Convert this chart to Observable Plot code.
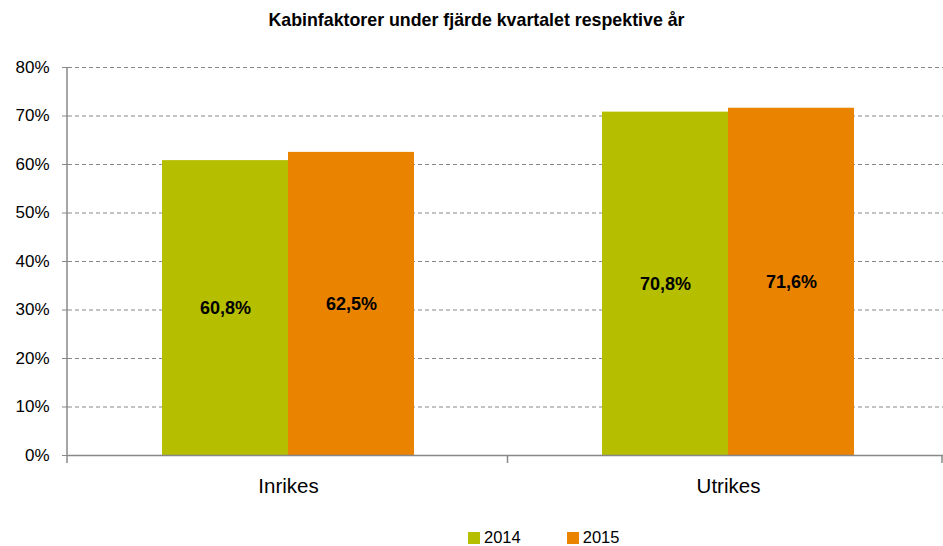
<!DOCTYPE html>
<html>
<head>
<meta charset="utf-8">
<script src="https://cdn.jsdelivr.net/npm/d3@7"></script>
<script src="https://cdn.jsdelivr.net/npm/@observablehq/plot@0.6"></script>
<style>
  body { margin: 0; background: #fff; font-family: "Liberation Sans", Arial, sans-serif; }
  #wrap { width: 943px; height: 546px; position: relative; overflow: hidden; }
  #title { height: 40px; line-height: 40px; text-align: center; font-weight: bold; font-size: 17.8px; color: #000; padding-left: 10px; box-sizing: border-box; }
  #legend { position: absolute; top: 528px; left: 468px; display: flex; gap: 46px; font-size: 16.5px; }
  .item { display: flex; align-items: center; gap: 4px; }
  .sw { width: 12px; height: 12px; display: inline-block; }
</style>
</head>
<body>
<div id="wrap">
  <div id="title">Kabinfaktorer under fjärde kvartalet respektive år</div>
  <div id="chart"></div>
  <div id="legend"></div>
</div>
<script>
const categories = ["Inrikes", "Utrikes"];
const years = ["2014", "2015"];
const values2014 = [0.608, 0.708];
const values2015 = [0.625, 0.716];
const labels2014 = ["60,8%", "70,8%"];
const labels2015 = ["62,5%", "71,6%"];
const colors = ["#b5bf00", "#ea8400"];
const yTicks = [0, 0.1, 0.2, 0.3, 0.4, 0.5, 0.6, 0.7, 0.8];

const data = [];
categories.forEach((c, i) => {
  data.push({cat: c, year: years[0], value: values2014[i], label: labels2014[i]});
  data.push({cat: c, year: years[1], value: values2015[i], label: labels2015[i]});
});

const chart = Plot.plot({
  width: 943,
  height: 470,
  marginLeft: 67,
  marginRight: -5,
  marginTop: 27,
  marginBottom: 55,
  style: {fontFamily: "Liberation Sans, Arial, sans-serif", color: "#000", background: "#fff", overflow: "hidden"},
  fx: {domain: categories, paddingInner: 0, paddingOuter: 0, label: null, axis: null},
  x: {domain: years, paddingInner: 0, paddingOuter: 0.745, axis: null},
  y: {domain: [0, 0.8], ticks: yTicks, tickFormat: d3.format(".0%"), label: null},
  color: {domain: years, range: colors},
  marks: [
    Plot.gridY(yTicks.filter(d => d > 0), {stroke: "#888", strokeOpacity: 1, strokeDasharray: "4,3", strokeWidth: 1.2}),
    Plot.axisY({ticks: yTicks, tickFormat: d3.format(".0%"), tickSize: 6, tickPadding: 13, fontSize: 17, stroke: "#888", label: null}),
    Plot.axisFx({anchor: "bottom", tickSize: 0, tickPadding: 23, fontSize: 20.5, label: null}),
    Plot.barY(data, {fx: "cat", x: "year", y: "value", fill: "year"}),
    Plot.text(data, {fx: "cat", x: "year", y: d => d.value / 2, text: "label", fontSize: 18, fontWeight: "bold", fill: "#000"}),
    Plot.ruleY([0], {stroke: "#888", strokeWidth: 1.5})
  ]
});
document.getElementById("chart").appendChild(chart);

// category boundary ticks and vertical axis line, derived from the scales
const fx = chart.scale("fx");
const y = chart.scale("y");
const [r0, r1] = fx.range;
const step = (r1 - r0) / categories.length;
const yBase = y.range[0];
const yTop = y.range[1];
const svg = d3.select(chart);
const g = svg.append("g").attr("stroke", "#888").attr("stroke-width", 1.5);
g.append("line").attr("x1", r0).attr("x2", r0).attr("y1", yTop).attr("y2", yBase + 8);
for (let i = 1; i <= categories.length; i++) {
  const xb = Math.min(r0 + i * step, 942);
  g.append("line").attr("x1", xb).attr("x2", xb).attr("y1", yBase).attr("y2", yBase + 8);
}

const legend = document.getElementById("legend");
years.forEach((yr, i) => {
  const it = document.createElement("div");
  it.className = "item";
  it.innerHTML = `<span class="sw" style="background:${colors[i]}"></span><span>${yr}</span>`;
  legend.appendChild(it);
});
</script>
</body>
</html>
